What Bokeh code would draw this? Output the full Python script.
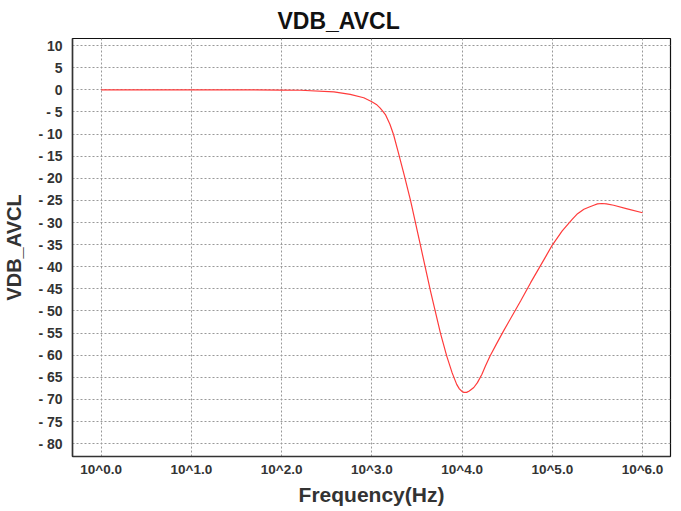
from bokeh.plotting import figure
from bokeh.models import Range1d, FixedTicker
from bokeh.embed import file_html
from bokeh.resources import INLINE

# ---- data ----
freq_hz = [1, 10, 100, 162, 380, 575, 813, 1000, 1122, 1230, 1318, 1413, 1585, 1738, 1950,
           2291, 2690, 3467, 4467, 5754, 6761, 7762, 8710, 9333, 10000, 10470, 11220, 12020,
           13490, 14790, 16600, 18200, 20420, 23990, 28840, 44670, 57540, 85110, 100000,
           128800, 166000, 190500, 223900, 257000, 288400, 316200, 354800, 398100, 478600,
           676100, 1000000]
vdb_avcl = [0.0, 0.0, -0.05, -0.1, -0.45, -1.05, -1.8, -2.7, -3.3, -4.1, -4.8, -5.6, -7.8, -10.1, -13.9,
            -19.4, -25.1, -35.3, -45.5, -55.0, -60.2, -64.0, -66.6, -67.6, -68.2, -68.4, -68.4, -68.1,
            -67.3, -66.2, -64.3, -62.4, -60.2, -57.5, -54.5, -47.7, -43.6, -37.6, -35.1,
            -31.9, -29.3, -28.0, -27.0, -26.5, -26.1, -25.8, -25.7, -25.8, -26.1,
            -26.9, -27.8]

x_ticks = [1, 10, 100, 1000, 10000, 100000, 1000000]
x_tick_labels = ["10^0.0", "10^1.0", "10^2.0", "10^3.0", "10^4.0", "10^5.0", "10^6.0"]
y_ticks = [10, 5, 0, -5, -10, -15, -20, -25, -30, -35, -40, -45, -50, -55, -60, -65, -70, -75, -80]
y_tick_labels = ["10", "5", "0", "- 5", "- 10", "- 15", "- 20", "- 25", "- 30", "- 35", "- 40",
                 "- 45", "- 50", "- 55", "- 60", "- 65", "- 70", "- 75", "- 80"]

FONT = "Liberation Sans"

p = figure(frame_width=598, frame_height=418, x_axis_type="log",
           x_range=Range1d(10 ** -0.318, 10 ** 6.31), y_range=Range1d(-82.9, 11.6),
           output_backend="svg", toolbar_location=None,
           min_border_left=64, min_border_right=3, min_border_top=30, min_border_bottom=45,
           title="VDB_AVCL")

p.title.text_font = FONT
p.title.text_font_size = "23px"
p.title.text_font_style = "bold"
p.title.text_color = "#111111"
p.title.align = "left"
p.title.offset = 205

p.line(freq_hz, vdb_avcl, line_color="#ff3b3b", line_width=1.2)

p.xaxis.ticker = FixedTicker(ticks=x_ticks)
p.xaxis.major_label_overrides = {float(t): l for t, l in zip(x_ticks, x_tick_labels)}
p.yaxis.ticker = FixedTicker(ticks=y_ticks)
p.yaxis.major_label_overrides = {float(t): l for t, l in zip(y_ticks, y_tick_labels)}

for ax in (p.xaxis[0], p.yaxis[0]):
    ax.major_tick_line_color = None
    ax.minor_tick_line_color = None
    ax.major_tick_out = 0
    ax.major_tick_in = 0
    ax.minor_tick_out = 0
    ax.minor_tick_in = 0
    ax.major_label_text_font = FONT
    ax.major_label_text_font_style = "bold"
    ax.major_label_text_color = "#333333"
    ax.axis_label_text_font = FONT
    ax.axis_label_text_font_style = "bold"
    ax.axis_label_text_color = "#333333"
    ax.axis_line_color = "#333333"
    ax.axis_line_width = 1.5

p.xaxis.major_label_text_font_size = "13.5px"
p.yaxis.major_label_text_font_size = "14px"
p.xaxis.axis_label_text_font_size = "21px"
p.yaxis.axis_label_text_font_size = "20px"

p.xaxis.axis_label = "Frequency(Hz)"
p.yaxis.axis_label = "VDB_AVCL"
p.xaxis.major_label_standoff = 5
p.yaxis.major_label_standoff = 10
p.xaxis.axis_label_standoff = 3
p.yaxis.axis_label_standoff = 10

p.xgrid.grid_line_color = "#999999"
p.ygrid.grid_line_color = "#999999"
p.xgrid.grid_line_dash = "2 2"
p.ygrid.grid_line_dash = "2 2"
p.xgrid.grid_line_width = 1
p.ygrid.grid_line_width = 1

p.outline_line_color = "#111111"
p.outline_line_width = 1.2
p.background_fill_color = "white"
p.border_fill_color = "white"

open("out.html", "w").write(file_html(p, INLINE))
